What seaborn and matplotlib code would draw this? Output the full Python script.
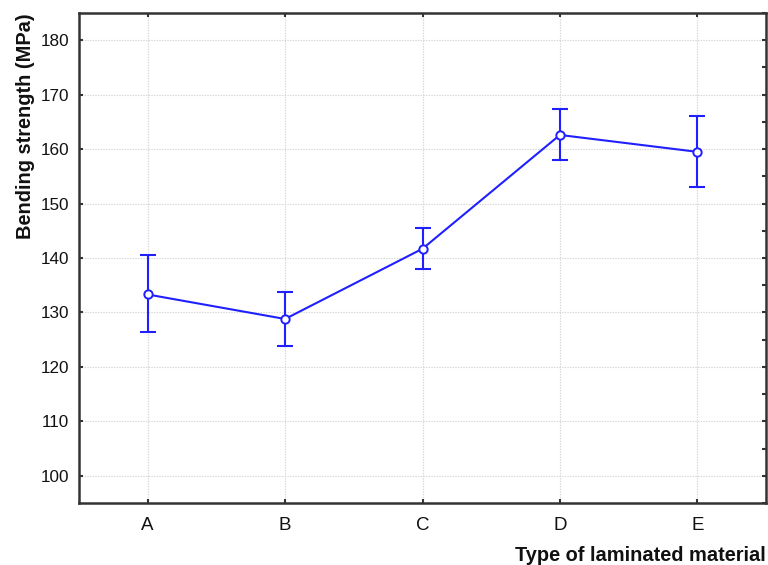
import matplotlib
matplotlib.use("Agg")
import matplotlib.pyplot as plt
import seaborn as sns
import pandas as pd
import numpy as np
from matplotlib.ticker import MultipleLocator

categories = ["A", "B", "C", "D", "E"]
means = [133.3, 128.8, 141.7, 162.6, 159.5]
lower = [126.4, 123.9, 137.9, 158.0, 153.0]
upper = [140.5, 133.8, 145.6, 167.3, 166.1]
yticks = [100, 110, 120, 130, 140, 150, 160, 170, 180]

sns.set_theme(style="white")
plt.rcParams['font.family'] = ['Liberation Sans', 'DejaVu Sans']

df = pd.DataFrame({"material": categories, "strength": means})
blue = "#2020ff"

fig = plt.figure(figsize=(7.68, 5.65), dpi=100)
ax = fig.add_axes([79/768, 1 - 503/565, (766 - 79)/768, (503 - 13)/565])

x = np.arange(len(categories))
yerr = [np.array(means) - np.array(lower), np.array(upper) - np.array(means)]
ax.errorbar(x, means, yerr=yerr, fmt="none", ecolor=blue, elinewidth=1.5,
            capsize=6, capthick=1.5, zorder=3)
sns.lineplot(x=x, y="strength", data=df, ax=ax, color=blue, linewidth=1.5,
             marker="o", markersize=6, markerfacecolor="white",
             markeredgecolor=blue, markeredgewidth=1.4, zorder=4)

ax.set_xlim(-0.5, 4.5)
ax.set_ylim(95, 185)
ax.set_xticks(x)
ax.set_xticklabels(categories, fontsize=13.5)
ax.set_yticks(yticks)
ax.set_yticklabels([str(v) for v in yticks], fontsize=12.3)
ax.yaxis.set_minor_locator(MultipleLocator(5))

ax.grid(True, which="major", color="#d4d4d4", linestyle=(0, (1.2, 1.2)), linewidth=0.8)
for s in ax.spines.values():
    s.set_visible(True)
    s.set_color("#333333")
    s.set_linewidth(1.8)

ax.tick_params(axis="both", which="major", direction="in", length=3, width=1.5,
               color="#333333", top=True, right=True, bottom=True, left=True,
               labelcolor="#111111")
ax.tick_params(axis="y", which="minor", direction="in", length=3, width=1.5,
               color="#333333", left=False, right=True)
ax.tick_params(axis="x", pad=10)
ax.tick_params(axis="y", pad=7)

ax.set_xlabel("Type of laminated material", fontsize=14.4, fontweight="bold",
              loc="right", labelpad=9, color="#111111")
ax.set_ylabel("Bending strength (MPa)", fontsize=14.4, fontweight="bold",
              loc="top", labelpad=4, color="#111111")

fig.savefig("out.png", dpi=100)
